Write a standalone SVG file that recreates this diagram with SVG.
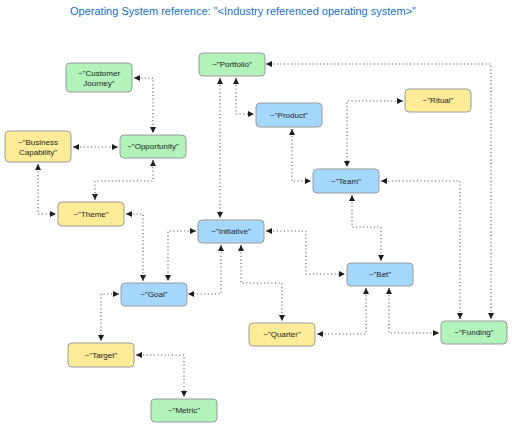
<svg xmlns="http://www.w3.org/2000/svg" width="512" height="428" viewBox="0 0 512 428">
<style>
.g{fill:#b2f2bb}.b{fill:#a5d8ff}.y{fill:#ffec99}
.n rect{stroke:#9a9a9a;stroke-width:1}
.t{font-family:"Liberation Sans",Arial,sans-serif;font-size:8px;fill:#1e1e1e;text-anchor:middle;dominant-baseline:central}
.ttl{font-family:"Liberation Sans",Arial,sans-serif;font-size:11px;fill:#1971c2;text-anchor:middle;dominant-baseline:central}
#edges path{fill:none;stroke:#444;stroke-width:1.1;stroke-dasharray:1 2.6;stroke-linejoin:round;marker-start:url(#ah);marker-end:url(#ah)}
</style>
<defs>
<marker id="ah" viewBox="0 0 10 10" refX="10" refY="5" markerWidth="6" markerHeight="6" markerUnits="userSpaceOnUse" orient="auto-start-reverse">
<path d="M0,0 L10,5 L0,10 Z" fill="#1e1e1e"/>
</marker>
</defs>
<rect width="512" height="428" fill="#ffffff"/>
<text class="ttl" x="243" y="11">Operating System reference: "&lt;Industry referenced operating system&gt;"</text>
<g id="edges">
<path d="M134,78 H153 V133"/>
<path d="M73,147 H118"/>
<path d="M153,160 V181 H95 V200"/>
<path d="M38,164 V214 H56"/>
<path d="M126,214 H143 V281"/>
<path d="M196,231 H168 V281"/>
<path d="M221,245 V294 H188"/>
<path d="M241,245 V283 H282 V321"/>
<path d="M266,231 H306 V274 H345"/>
<path d="M352,195 V227 H381 V261"/>
<path d="M381,181 H460 V319"/>
<path d="M266,64 H491 V319"/>
<path d="M366,288 V334 H317"/>
<path d="M389,288 V333 H439"/>
<path d="M220,78 V218"/>
<path d="M236,78 V114 H254"/>
<path d="M292,129 V181 H311"/>
<path d="M403,101 H347 V167"/>
<path d="M119,294 H101 V341"/>
<path d="M136,355 H184 V397"/>
</g>
<g id="portfolio" class="n"><rect class="g" x="199" y="53" width="66" height="23" rx="4"/><text class="t" x="232" y="64.5">~"Portfolio"</text></g>
<g id="customer-journey" class="n"><rect class="g" x="66" y="63" width="66" height="29" rx="4"/><text class="t" x="99" y="73">~"Customer</text><text class="t" x="99" y="83">Journey"</text></g>
<g id="ritual" class="n"><rect class="y" x="405" y="89" width="66" height="23" rx="4"/><text class="t" x="438" y="100.5">~"Ritual"</text></g>
<g id="product" class="n"><rect class="b" x="256" y="103" width="66" height="24" rx="4"/><text class="t" x="289" y="115">~"Product"</text></g>
<g id="business-capability" class="n"><rect class="y" x="5" y="131" width="66" height="31" rx="4"/><text class="t" x="38" y="142">~"Business</text><text class="t" x="38" y="152">Capability"</text></g>
<g id="opportunity" class="n"><rect class="g" x="120" y="135" width="66" height="23" rx="4"/><text class="t" x="153" y="146.5">~"Opportunity"</text></g>
<g id="team" class="n"><rect class="b" x="313" y="169" width="66" height="24" rx="4"/><text class="t" x="346" y="181">~"Team"</text></g>
<g id="theme" class="n"><rect class="y" x="58" y="202" width="66" height="24" rx="4"/><text class="t" x="91" y="214">~"Theme"</text></g>
<g id="initiative" class="n"><rect class="b" x="198" y="220" width="66" height="23" rx="4"/><text class="t" x="231" y="231.5">~"Initiative"</text></g>
<g id="bet" class="n"><rect class="b" x="347" y="263" width="66" height="23" rx="4"/><text class="t" x="380" y="274.5">~"Bet"</text></g>
<g id="goal" class="n"><rect class="b" x="121" y="283" width="66" height="23" rx="4"/><text class="t" x="154" y="294.5">~"Goal"</text></g>
<g id="quarter" class="n"><rect class="y" x="249" y="323" width="66" height="23" rx="4"/><text class="t" x="282" y="334.5">~"Quarter"</text></g>
<g id="funding" class="n"><rect class="g" x="441" y="321" width="66" height="23" rx="4"/><text class="t" x="474" y="332.5">~"Funding"</text></g>
<g id="target" class="n"><rect class="y" x="68" y="343" width="66" height="24" rx="4"/><text class="t" x="101" y="355">~"Target"</text></g>
<g id="metric" class="n"><rect class="g" x="151" y="399" width="66" height="23" rx="4"/><text class="t" x="184" y="410.5">~"Metric"</text></g>
</svg>
